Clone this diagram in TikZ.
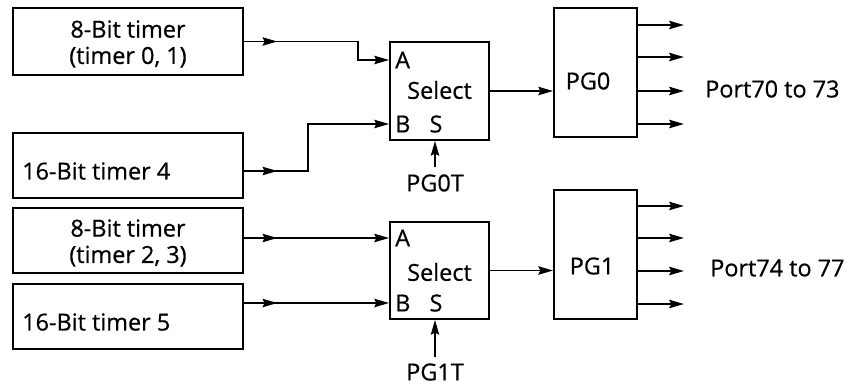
\documentclass[tikz,border=0pt]{standalone}
\usepackage{fontspec}
\setmainfont{Open Sans}[FakeBold=0.6]
\usetikzlibrary{arrows.meta,decorations.markings}
\tikzset{
  blk/.style={draw=black, line width=1.6pt, inner sep=0pt},
  wire/.style={draw=black, line width=1.6pt},
  sig/.style={wire, -{Stealth[length=4.4mm, width=2.5mm, inset=0.6mm]}},
  fed/.style={sig, postaction={decorate}, decoration={markings, mark=at position 1.0cm with {\arrow{Stealth[length=4.4mm, width=2.5mm, inset=0.6mm]}}}},
  txt/.style={font=\fontsize{20}{22.5}\selectfont, inner sep=0pt, align=center},
  pin/.style={txt, anchor=west},
}
\begin{document}
\begin{tikzpicture}[x=0.03cm,y=-0.03cm]
  \useasboundingbox (0,0) rectangle (849,385);
  \node[blk, minimum width=6.9cm, minimum height=2.01cm] (t01) at (128,41.5) {};
  \node[blk, minimum width=6.9cm, minimum height=1.95cm] (t4) at (128,165.5) {};
  \node[blk, minimum width=6.9cm, minimum height=1.95cm] (t23) at (128,240.5) {};
  \node[blk, minimum width=6.9cm, minimum height=1.95cm] (t5) at (128,316.5) {};
  \node[txt] (t01txt) at (128,44) {8-Bit timer\\(timer 0, 1)};
  \node[pin] (t4txt) at (22,171) {16-Bit timer 4};
  \node[txt] (t23txt) at (128,243) {8-Bit timer\\(timer 2, 3)};
  \node[pin] (t5txt) at (22,322) {16-Bit timer 5};
  \node[blk, minimum width=2.97cm, minimum height=2.94cm] (sel0) at (439.5,91) {};
  \node[blk, minimum width=2.97cm, minimum height=2.91cm] (sel1) at (439.5,270.5) {};
  \node[pin] (a0) at (395,60) {A};
  \node[txt] (s0txt) at (439.5,90) {Select};
  \node[pin] (b0) at (395,124) {B};
  \node[txt] (s0s) at (436,124) {S};
  \node[pin] (a1) at (395,238) {A};
  \node[txt] (s1txt) at (439.5,272) {Select};
  \node[pin] (b1) at (395,303) {B};
  \node[txt] (s1s) at (436,303) {S};
  \node[txt] (pg0t) at (435,183) {PG0T};
  \node[txt] (pg1t) at (435,372) {PG1T};
  \node[blk, minimum width=2.49cm, minimum height=3.87cm] (pg0) at (595.5,72.5) {};
  \node[blk, minimum width=2.49cm, minimum height=3.87cm] (pg1) at (595.5,254.5) {};
  \node[txt] (pg0txt) at (588,81) {PG0};
  \node[txt] (pg1txt) at (592,266) {PG1};
  \node[pin] (port0) at (705,89) {Port70 to 73};
  \node[pin] (port1) at (710,268) {Port74 to 77};
  \draw[fed] (t01.east) -- ++(114,0) |- (a0 -| sel0.west);
  \draw[fed] (t4txt -| t4.east) -- ++(64,0) |- (b0 -| sel0.west);
  \draw[fed] (a1 -| t23.east) -- (a1 -| sel1.west);
  \draw[fed] (b1 -| t5.east) -- (b1 -| sel1.west);
  \draw[sig, shorten <=2mm] (pg0t.north) -- (pg0t.north |- sel0.south);
  \draw[sig, shorten <=2mm] (pg1t.north) -- (pg1t.north |- sel1.south);
  \draw[sig] (sel0.east) -- (sel0.east -| pg0.west);
  \draw[sig] (sel1.east) -- (sel1.east -| pg1.west);
  \draw[sig] (pg0.east |- 0,25) -- ++(46,0);
  \draw[sig] (pg0.east |- 0,57) -- ++(46,0);
  \draw[sig] (pg0.east |- 0,91) -- ++(46,0);
  \draw[sig] (pg0.east |- 0,124) -- ++(46,0);
  \draw[sig] (pg1.east |- 0,206) -- ++(46,0);
  \draw[sig] (pg1.east |- 0,238) -- ++(46,0);
  \draw[sig] (pg1.east |- 0,271) -- ++(46,0);
  \draw[sig] (pg1.east |- 0,304) -- ++(46,0);
\end{tikzpicture}
\end{document}
